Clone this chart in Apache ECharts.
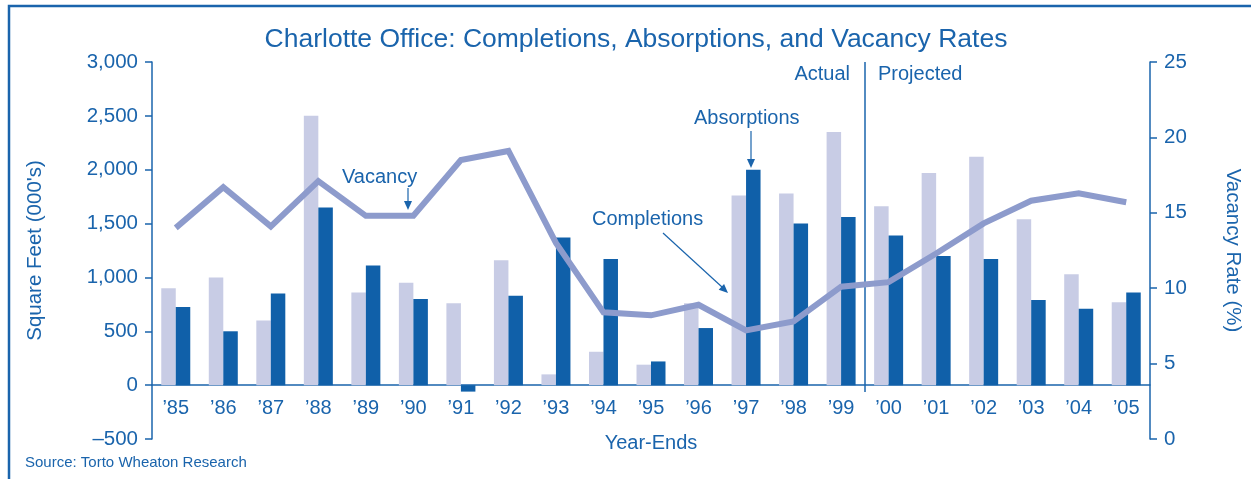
<!DOCTYPE html>
<html>
<head>
<meta charset="utf-8">
<script src="https://cdn.jsdelivr.net/npm/echarts@6/dist/echarts.min.js"></script>
<style>
  html, body { margin: 0; padding: 0; background: #fff; }
  #chart { width: 1251px; height: 479px; }
</style>
</head>
<body>
<div id="chart"></div>
<script>
// chart data
var years = ["’85", "’86", "’87", "’88", "’89", "’90", "’91", "’92", "’93", "’94", "’95",
             "’96", "’97", "’98", "’99", "’00", "’01", "’02", "’03", "’04", "’05"];
var completions = [900, 1000, 600, 2500, 860, 950, 760, 1160, 100, 310, 190,
                   760, 1760, 1780, 2350, 1660, 1970, 2120, 1540, 1030, 770];
var absorptions = [725, 500, 850, 1650, 1110, 800, -60, 830, 1370, 1170, 220,
                   530, 2000, 1500, 1560, 1390, 1200, 1170, 790, 710, 860];
var vacancy = [14.0, 16.7, 14.1, 17.1, 14.8, 14.8, 18.5, 19.1, 13.0, 8.4, 8.2,
               8.9, 7.2, 7.8, 10.1, 10.4, 12.3, 14.3, 15.8, 16.3, 15.7];
var leftTicks = { "-500": "–500", "0": "0", "500": "500", "1000": "1,000", "1500": "1,500",
                  "2000": "2,000", "2500": "2,500", "3000": "3,000" };

var blue = '#1a64ac';
var font = 'Liberation Sans, Arial, sans-serif';

var myChart = echarts.init(document.getElementById('chart'));

// arrow head helper (annotation only)
function head(x, y, ang) {
  var s = 9, w = 4;
  var c = Math.cos(ang), n = Math.sin(ang);
  return {
    type: 'polygon',
    shape: { points: [[x, y], [x - s * c + w * n, y - s * n - w * c], [x - s * c - w * n, y - s * n + w * c]] },
    style: { fill: blue }
  };
}
function txt(x, y, t, align) {
  return {
    type: 'text', x: x, y: y,
    style: { text: t, fill: blue, font: '20px ' + font, textAlign: align || 'left', textVerticalAlign: 'middle' }
  };
}
var compAng = Math.atan2(292 - 233, 727 - 663);

var option = {
  animation: false,
  title: {
    text: 'Charlotte Office: Completions, Absorptions, and Vacancy Rates',
    left: 631, top: 21, textAlign: 'center',
    textStyle: { color: blue, fontFamily: font, fontSize: 26.5, fontWeight: 'normal' }
  },
  grid: { left: 152, right: 101, top: 62, bottom: 40, containLabel: false, outerBoundsMode: 'none' },
  xAxis: {
    type: 'category',
    data: years,
    position: 'bottom',
    offset: -54,   // sits on the zero line of the left axis
    name: 'Year-Ends',
    nameLocation: 'middle',
    nameGap: 48,
    nameTextStyle: { color: blue, fontFamily: font, fontSize: 20 },
    axisLine: { onZero: false, lineStyle: { color: blue, width: 1.5 } },
    axisTick: { length: 7, lineStyle: { color: blue, width: 1.5 } },
    axisLabel: { color: blue, fontFamily: font, fontSize: 20, margin: 13 }
  },
  yAxis: [{
    type: 'value',
    min: -500, max: 3000, interval: 500,
    name: "Square Feet (000's)",
    nameLocation: 'middle',
    nameRotate: 90,
    nameGap: 106,
    nameTextStyle: { color: blue, fontFamily: font, fontSize: 20.5 },
    splitLine: { show: false },
    axisLine: { show: true, lineStyle: { color: blue, width: 1.5 } },
    axisTick: { show: true, length: 7, lineStyle: { color: blue, width: 1.5 } },
    axisLabel: {
      color: blue, fontFamily: font, fontSize: 20.5, margin: 14,
      formatter: function (v) { return leftTicks[String(v)]; }
    }
  }, {
    type: 'value',
    min: 0, max: 25, interval: 5,
    position: 'right',
    name: 'Vacancy Rate (%)',
    nameLocation: 'middle',
    nameRotate: -90,
    nameGap: 72,
    nameTextStyle: { color: blue, fontFamily: font, fontSize: 20.5 },
    splitLine: { show: false },
    axisLine: { show: true, lineStyle: { color: blue, width: 1.5 } },
    axisTick: { show: true, length: 7, lineStyle: { color: blue, width: 1.5 } },
    axisLabel: { color: blue, fontFamily: font, fontSize: 20.5, margin: 14 }
  }],
  series: [{
    name: 'Completions',
    type: 'bar',
    data: completions,
    barWidth: 14.5,
    barGap: '0%',
    itemStyle: { color: '#c8cce5' }
  }, {
    name: 'Absorptions',
    type: 'bar',
    data: absorptions,
    barWidth: 14.5,
    barGap: '0%',
    itemStyle: { color: '#1060a9' }
  }, {
    name: 'Vacancy',
    type: 'line',
    yAxisIndex: 1,
    data: vacancy,
    symbol: 'none',
    z: 5,
    lineStyle: { color: '#8d9bcc', width: 6, join: 'miter' }
  }],
  graphic: [
    // outer frame
    { type: 'rect', shape: { x: 9, y: 6, width: 1300, height: 500 }, style: { fill: 'none', stroke: blue, lineWidth: 2.5 }, silent: true },
    // actual / projected divider
    { type: 'line', shape: { x1: 865, y1: 62, x2: 865, y2: 392 }, style: { stroke: blue, lineWidth: 1.5 } },
    txt(850, 74, 'Actual', 'right'),
    txt(878, 74, 'Projected'),
    // annotations
    txt(342, 177, 'Vacancy'),
    { type: 'line', shape: { x1: 408, y1: 188, x2: 408, y2: 203 }, style: { stroke: blue, lineWidth: 1.2 } },
    head(408, 210, Math.PI / 2),
    txt(592, 219, 'Completions'),
    { type: 'line', shape: { x1: 663, y1: 233, x2: 722, y2: 287 }, style: { stroke: blue, lineWidth: 1.2 } },
    head(728, 293, compAng),
    txt(694, 118, 'Absorptions'),
    { type: 'line', shape: { x1: 751, y1: 131, x2: 751, y2: 161 }, style: { stroke: blue, lineWidth: 1.2 } },
    head(751, 168, Math.PI / 2),
    {
      type: 'text', x: 25, y: 463,
      style: { text: 'Source: Torto Wheaton Research', fill: blue, font: '15px ' + font, textVerticalAlign: 'middle' }
    }
  ]
};

myChart.setOption(option);
</script>
</body>
</html>
